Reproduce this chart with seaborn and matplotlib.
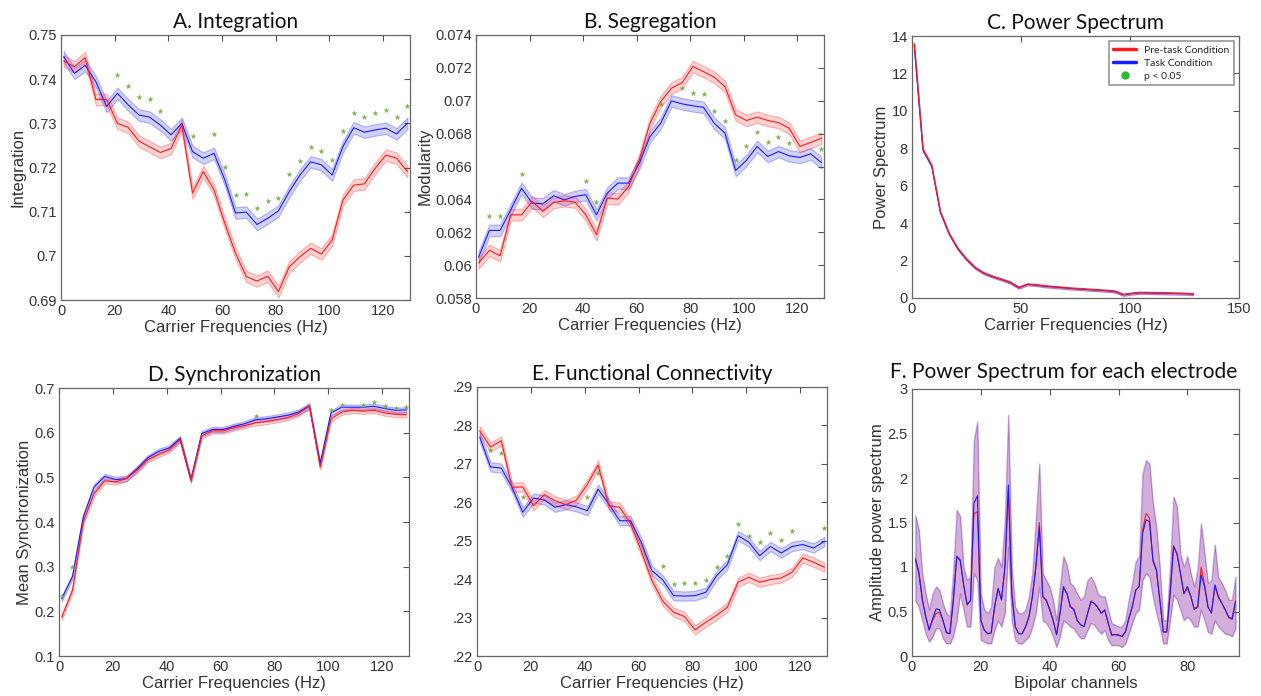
import numpy as np
import pandas as pd
import matplotlib
matplotlib.use("Agg")
import matplotlib.pyplot as plt
from matplotlib.ticker import FuncFormatter
from matplotlib.lines import Line2D
import seaborn as sns

# ---------------- data ----------------
freqs = [1, 5, 9, 13, 17, 21, 25, 29, 33, 37, 41, 45, 49, 53, 57, 61, 65,
         69, 73, 77, 81, 85, 89, 93, 97, 101, 105, 109, 113, 117, 121, 125, 129]

# A. Integration
integ_task = [0.7451, 0.7413, 0.7431, 0.7394, 0.7338, 0.7368, 0.7342, 0.7319, 0.7314, 0.7296, 0.7274,
              0.7300, 0.7236, 0.7221, 0.7232, 0.7172, 0.7097, 0.7099, 0.7071, 0.7085, 0.7102, 0.7145,
              0.7183, 0.7213, 0.7206, 0.7183, 0.7247, 0.7290, 0.7280, 0.7285, 0.7289, 0.7276, 0.7300]
integ_pre = [0.7441, 0.7428, 0.7449, 0.7354, 0.7354, 0.7300, 0.7291, 0.7260, 0.7247, 0.7234, 0.7243,
             0.7296, 0.7142, 0.7191, 0.7149, 0.7074, 0.7006, 0.6953, 0.6943, 0.6954, 0.6919, 0.6975,
             0.6998, 0.7017, 0.7004, 0.7036, 0.7126, 0.7160, 0.7163, 0.7198, 0.7228, 0.7221, 0.7191]
integ_sig_x = [21, 25, 29, 33, 37, 49, 57, 61, 65, 69, 73, 77, 81, 85, 89, 93, 97, 101, 105, 109, 113, 117, 121, 125, 129]
integ_sig_y = [0.7409, 0.7385, 0.7360, 0.7354, 0.7328, 0.7271, 0.7276, 0.7202, 0.7138, 0.7139, 0.7108,
               0.7124, 0.7132, 0.7185, 0.7215, 0.7247, 0.7238, 0.7217, 0.7283, 0.7324, 0.7314, 0.7323,
               0.7330, 0.7315, 0.7339]
integ_sem = 0.0013

# B. Segregation
modul_task = [0.06049, 0.06211, 0.06211, 0.06337, 0.06468, 0.06377, 0.06373, 0.06422, 0.06397, 0.06418,
              0.06428, 0.06306, 0.06438, 0.06499, 0.06499, 0.06620, 0.06782, 0.06863, 0.06999, 0.06981,
              0.06969, 0.06960, 0.06863, 0.06803, 0.06576, 0.06637, 0.06722, 0.06661, 0.06691, 0.06665,
              0.06655, 0.06677, 0.06624]
modul_pre = [0.06013, 0.06090, 0.06057, 0.06306, 0.06306, 0.06387, 0.06327, 0.06381, 0.06391, 0.06383,
             0.06306, 0.06185, 0.06408, 0.06402, 0.06478, 0.06641, 0.06863, 0.06995, 0.07076, 0.07110,
             0.07208, 0.07177, 0.07143, 0.07086, 0.06914, 0.06880, 0.06900, 0.06880, 0.06867, 0.06833,
             0.06722, 0.06746, 0.06772]
modul_sig_x = [5, 9, 17, 41, 45, 69, 77, 81, 85, 89, 93, 97, 101, 105, 109, 113, 117, 129]
modul_sig_y = [0.06296, 0.06296, 0.06555, 0.06513, 0.06387, 0.06981, 0.07076, 0.07046, 0.07042, 0.06938,
               0.06877, 0.06641, 0.06722, 0.06809, 0.06748, 0.06782, 0.06746, 0.06707]
modul_sem = 0.00035

# C. Power spectrum
power_pre = [13.6, 7.95, 7.1, 4.6, 3.45, 2.65, 2.08, 1.62, 1.33, 1.15, 1.0, 0.84, 0.56, 0.74, 0.70, 0.64,
             0.60, 0.56, 0.52, 0.49, 0.46, 0.43, 0.40, 0.36, 0.18, 0.25, 0.29, 0.28, 0.27, 0.26, 0.25, 0.24, 0.22]
power_task = [13.5, 7.9, 7.05, 4.58, 3.43, 2.63, 2.06, 1.61, 1.32, 1.14, 0.99, 0.83, 0.55, 0.73, 0.69, 0.63,
              0.59, 0.55, 0.51, 0.48, 0.45, 0.42, 0.39, 0.35, 0.17, 0.24, 0.28, 0.27, 0.26, 0.25, 0.24, 0.23, 0.21]
power_sem = 0.06

# D. Synchronization
sync_task = [0.228, 0.278, 0.411, 0.478, 0.502, 0.495, 0.497, 0.519, 0.544, 0.558, 0.566, 0.587, 0.495,
             0.598, 0.607, 0.607, 0.614, 0.620, 0.629, 0.631, 0.635, 0.639, 0.646, 0.660, 0.531, 0.644,
             0.657, 0.657, 0.657, 0.659, 0.654, 0.650, 0.651]
sync_pre = [0.187, 0.247, 0.400, 0.463, 0.492, 0.490, 0.497, 0.516, 0.540, 0.551, 0.562, 0.584, 0.493,
            0.593, 0.604, 0.604, 0.611, 0.616, 0.622, 0.625, 0.629, 0.634, 0.643, 0.659, 0.523, 0.631,
            0.646, 0.650, 0.648, 0.650, 0.644, 0.641, 0.640]
sync_sig_x = [1, 5, 73, 101, 105, 113, 117, 121, 125, 129]
sync_sig_y = [0.234, 0.299, 0.637, 0.651, 0.663, 0.663, 0.668, 0.660, 0.656, 0.657]
sync_sem = 0.006

# E. Functional connectivity
fc_task = [0.2770, 0.2692, 0.2689, 0.2639, 0.2574, 0.2611, 0.2606, 0.2587, 0.2594, 0.2588, 0.2578, 0.2634,
           0.2595, 0.2552, 0.2552, 0.2496, 0.2422, 0.2398, 0.2357, 0.2356, 0.2357, 0.2366, 0.2409, 0.2438,
           0.2513, 0.2496, 0.2461, 0.2485, 0.2468, 0.2485, 0.2490, 0.2481, 0.2498]
fc_pre = [0.2786, 0.2744, 0.2760, 0.2639, 0.2640, 0.2591, 0.2620, 0.2604, 0.2594, 0.2606, 0.2647, 0.2697,
          0.2591, 0.2587, 0.2545, 0.2474, 0.2396, 0.2343, 0.2314, 0.2303, 0.2268, 0.2288, 0.2306, 0.2327,
          0.2392, 0.2405, 0.2392, 0.2399, 0.2403, 0.2418, 0.2455, 0.2444, 0.2431]
fc_sig_x = [5, 9, 17, 41, 45, 69, 73, 77, 81, 85, 89, 93, 97, 101, 105, 109, 113, 117, 129]
fc_sig_y = [0.2735, 0.2729, 0.2614, 0.2614, 0.2675, 0.2434, 0.2388, 0.2389, 0.2390, 0.2398, 0.2431, 0.2459,
            0.2543, 0.2513, 0.2496, 0.2520, 0.2502, 0.2524, 0.2532]
fc_sem = 0.0012

# F. Power spectrum per electrode
channels = list(range(1, 95))
elec_task = [1.08, 0.93, 0.63, 0.44, 0.29, 0.42, 0.53, 0.52, 0.40, 0.26, 0.25, 0.62, 1.12, 1.08, 0.80, 0.58,
             0.62, 1.72, 1.80, 0.40, 0.29, 0.25, 0.26, 0.55, 0.76, 0.63, 1.00, 1.92, 0.70, 0.33, 0.25, 0.25,
             0.33, 0.44, 0.67, 1.00, 1.45, 0.67, 0.63, 0.52, 0.40, 0.24, 0.48, 0.78, 0.70, 0.55, 0.52, 0.40,
             0.35, 0.33, 0.48, 0.61, 0.59, 0.54, 0.48, 0.52, 0.37, 0.24, 0.24, 0.24, 0.22, 0.27, 0.42, 0.55,
             0.74, 0.78, 1.38, 1.53, 1.51, 1.08, 0.97, 0.63, 0.27, 0.27, 0.70, 1.23, 1.15, 0.93, 0.70, 0.78,
             0.67, 0.52, 0.55, 0.91, 0.78, 0.55, 0.48, 0.80, 0.67, 0.59, 0.52, 0.44, 0.42, 0.61]
elec_pre = [1.10, 0.95, 0.64, 0.44, 0.30, 0.40, 0.48, 0.49, 0.40, 0.27, 0.25, 0.63, 1.11, 1.07, 0.80, 0.57,
            0.63, 1.60, 1.62, 0.40, 0.29, 0.25, 0.26, 0.56, 0.75, 0.64, 1.00, 1.88, 0.71, 0.33, 0.25, 0.25,
            0.33, 0.45, 0.68, 1.02, 1.50, 0.66, 0.62, 0.53, 0.40, 0.24, 0.48, 0.76, 0.71, 0.56, 0.53, 0.40,
            0.35, 0.33, 0.47, 0.62, 0.59, 0.55, 0.48, 0.51, 0.37, 0.23, 0.24, 0.23, 0.22, 0.27, 0.43, 0.56,
            0.74, 0.78, 1.42, 1.60, 1.55, 1.06, 0.96, 0.63, 0.27, 0.27, 0.71, 1.24, 1.14, 0.92, 0.70, 0.76,
            0.67, 0.53, 0.56, 1.00, 0.80, 0.55, 0.49, 0.78, 0.66, 0.60, 0.52, 0.43, 0.41, 0.62]
elec_hi = [1.58, 1.42, 0.93, 0.70, 0.52, 0.70, 0.78, 0.74, 0.59, 0.48, 0.44, 0.95, 1.64, 1.57, 1.00, 0.85,
           0.89, 2.43, 2.63, 0.70, 0.52, 0.48, 0.55, 1.00, 1.10, 1.00, 1.53, 2.71, 1.00, 0.55, 0.48, 0.48,
           0.52, 0.67, 0.93, 1.53, 2.16, 0.93, 0.85, 0.78, 0.63, 0.40, 0.78, 1.12, 1.02, 0.82, 0.78, 0.70,
           0.63, 0.67, 0.85, 0.89, 0.82, 0.70, 0.67, 0.67, 0.52, 0.37, 0.35, 0.33, 0.33, 0.40, 0.63, 0.82,
           1.06, 1.12, 2.05, 2.20, 2.16, 1.72, 1.45, 1.00, 0.40, 0.40, 1.00, 1.79, 1.68, 1.15, 1.00, 1.12,
           0.93, 0.78, 0.97, 1.49, 1.15, 0.82, 0.85, 1.25, 0.89, 0.82, 0.74, 0.63, 0.63, 0.89]
elec_lo = [0.62, 0.55, 0.40, 0.25, 0.16, 0.22, 0.31, 0.31, 0.20, 0.14, 0.14, 0.22, 0.40, 0.70, 0.52, 0.33,
           0.33, 0.93, 0.85, 0.18, 0.16, 0.14, 0.14, 0.29, 0.40, 0.33, 0.48, 1.23, 0.40, 0.18, 0.14, 0.14,
           0.18, 0.22, 0.33, 0.48, 0.78, 0.40, 0.37, 0.31, 0.22, 0.10, 0.22, 0.40, 0.37, 0.33, 0.31, 0.25,
           0.20, 0.20, 0.29, 0.37, 0.35, 0.29, 0.25, 0.29, 0.18, 0.12, 0.12, 0.12, 0.10, 0.14, 0.25, 0.37,
           0.48, 0.52, 0.85, 0.93, 0.89, 0.67, 0.48, 0.33, 0.14, 0.14, 0.40, 0.69, 0.63, 0.52, 0.40, 0.44,
           0.40, 0.33, 0.33, 0.52, 0.40, 0.27, 0.25, 0.40, 0.33, 0.29, 0.25, 0.24, 0.22, 0.31]

# ---------------- style ----------------
sns.set_theme(style="white")
plt.rcParams['font.family'] = ['Liberation Sans', 'DejaVu Sans']
plt.rcParams['axes.edgecolor'] = '#555555'
plt.rcParams['axes.linewidth'] = 0.9

RED = '#ff1a1a'
BLUE = '#1a1aff'
GREEN = '#76b043'
TXT = '#333333'
TITLE_FONT = dict(family=['Lato', 'DejaVu Sans'], size=15, color='#111111')

fig = plt.figure(figsize=(12.61, 6.96), dpi=100)
W, H = 1261, 696


def make_ax(l, r, t, b):
    return fig.add_axes([l / W, (H - b) / H, (r - l) / W, (b - t) / H])


def style(ax, title, xlabel, ylabel, xlim, ylim, xticks, yticks, yfmt=None, title_x=0.5, title_pad=5):
    ax.set_xlim(*xlim)
    ax.set_ylim(*ylim)
    ax.set_xticks(xticks)
    ax.set_yticks(yticks)
    ax.xaxis.set_major_formatter(FuncFormatter(lambda v, p: f'{v:g}'))
    ax.yaxis.set_major_formatter(FuncFormatter(yfmt if yfmt else (lambda v, p: f'{round(v, 6):g}')))
    ax.tick_params(direction='in', top=True, right=True, length=4, width=0.8,
                   colors='#555555', labelcolor=TXT, labelsize=10.5, pad=3)
    ax.set_xlabel(xlabel, fontsize=12, color=TXT, labelpad=1)
    ax.set_ylabel(ylabel, fontsize=12, color=TXT, labelpad=2)
    ax.set_title(title, pad=title_pad, x=title_x, **TITLE_FONT)
    for s in ax.spines.values():
        s.set_visible(True)
        s.set_color('#666666')


def band(ax, x, y, lo, hi, color, alpha=0.22):
    ax.fill_between(x, lo, hi, facecolor=matplotlib.colors.to_rgba(color, alpha),
                    edgecolor=matplotlib.colors.to_rgba(color, 0.3), linewidth=0.8)


def panel(ax, x, pre, task, sem, sig_x=None, sig_y=None):
    pre = np.asarray(pre)
    task = np.asarray(task)
    band(ax, x, task, task - sem, task + sem, BLUE, 0.2)
    band(ax, x, pre, pre - sem, pre + sem, RED, 0.2)
    sns.lineplot(x=x, y=task, color=BLUE, lw=0.8, ax=ax)
    sns.lineplot(x=x, y=pre, color=RED, lw=0.8, ax=ax)
    if sig_x is not None:
        sns.scatterplot(x=sig_x, y=sig_y, marker='*', s=14, color=GREEN, edgecolor=GREEN,
                        linewidth=0.2, ax=ax, zorder=5)


XL = 'Carrier Frequencies (Hz)'
fticks = [0, 20, 40, 60, 80, 100, 120]

# A
axA = make_ax(61, 410, 35, 300)
panel(axA, freqs, integ_pre, integ_task, integ_sem, integ_sig_x, integ_sig_y)
style(axA, 'A. Integration', XL, 'Integration', (0, 130), (0.69, 0.75), fticks,
      np.round(np.arange(0.69, 0.7501, 0.01), 3))

# B
axB = make_ax(476, 824, 35, 298)
panel(axB, freqs, modul_pre, modul_task, modul_sem, modul_sig_x, modul_sig_y)
style(axB, 'B. Segregation', XL, 'Modularity', (0, 130), (0.058, 0.074), fticks,
      np.round(np.arange(0.058, 0.07401, 0.002), 4))

# C
axC = make_ax(912, 1239, 36, 298)
panel(axC, freqs, power_pre, power_task, power_sem)
style(axC, 'C. Power Spectrum', XL, 'Power Spectrum', (0, 150), (0, 14), [0, 50, 100, 150],
      list(range(0, 15, 2)))
handles = [Line2D([], [], color=RED, lw=2.5), Line2D([], [], color=BLUE, lw=2.5),
           Line2D([], [], color='#2eb82e', marker='o', ls='none', markersize=5)]
leg = axC.legend(handles, ['Pre-task Condition', 'Task Condition', 'p < 0.05'],
                 loc='upper right', frameon=True, fancybox=False,
                 borderaxespad=0.5, handlelength=2.2, labelspacing=0.35,
                 prop=dict(family=['Lato', 'DejaVu Sans'], size=7.5))
leg.get_frame().set_edgecolor('#888888')
leg.get_frame().set_linewidth(1.3)

# D
axD = make_ax(59, 409, 388, 656)
panel(axD, freqs, sync_pre, sync_task, sync_sem, sync_sig_x, sync_sig_y)
style(axD, 'D. Synchronization', XL, 'Mean Synchronization', (0, 130), (0.1, 0.7), fticks,
      np.round(np.arange(0.1, 0.701, 0.1), 2))

# E
axE = make_ax(477, 827, 387, 656)
panel(axE, freqs, fc_pre, fc_task, fc_sem, fc_sig_x, fc_sig_y)
style(axE, 'E. Functional Connectivity', XL, '', (0, 130), (0.22, 0.29), fticks,
      np.round(np.arange(0.22, 0.2901, 0.01), 3),
      yfmt=lambda v, p: f'{v:.2f}'.lstrip('0'))

# F
axF = make_ax(912, 1239, 389, 656)
axF.fill_between(channels, elec_lo, elec_hi, facecolor=matplotlib.colors.to_rgba('#9a40a8', 0.42),
                 edgecolor=matplotlib.colors.to_rgba(BLUE, 0.3), linewidth=0.9)
axF.fill_between(channels, elec_lo, elec_hi, facecolor='none',
                 edgecolor=matplotlib.colors.to_rgba(RED, 0.2), linewidth=0.7)
sns.lineplot(x=channels, y=elec_pre, color=RED, lw=0.8, ax=axF)
sns.lineplot(x=channels, y=elec_task, color=BLUE, lw=0.8, ax=axF)
style(axF, 'F. Power Spectrum for each electrode', 'Bipolar channels', 'Amplitude power spectrum',
      (0, 95), (0, 3), [0, 20, 40, 60, 80], [0, 0.5, 1, 1.5, 2, 2.5, 3],
      title_x=0.465, title_pad=8)

fig.savefig('out.png', dpi=100, facecolor='white')
